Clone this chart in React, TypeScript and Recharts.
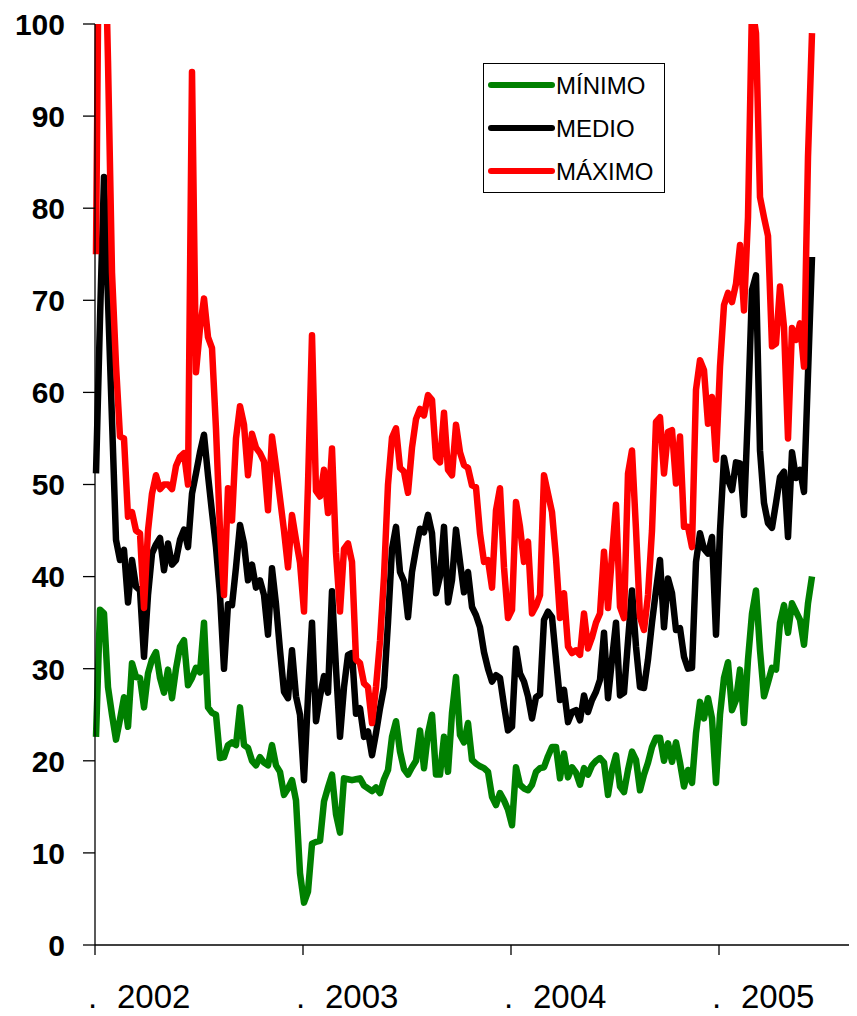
import { Legend, Line, LineChart, XAxis, YAxis } from "recharts";

// weekly prices, first week of 2002 to mid 2005
const minimo = [
  22.6, 36.4, 36, 28, 25, 22.3, 24.5, 26.9, 23.7, 30.6, 29.1, 29, 25.8, 29.5, 31, 31.8, 29, 27.4, 29.9, 26.8,
  30, 32.4, 33.1, 28.2, 29, 30.1, 29.6, 35, 25.8, 25.2, 25, 20.3, 20.4, 21.7, 22, 21.7, 25.8, 21.7, 21.4, 20,
  19.5, 20.4, 19.8, 19.5, 21.7, 19.5, 18.8, 16.3, 17, 17.9, 15.7, 7.8, 4.6, 5.8, 11, 11.2, 11.3, 15.6, 17.1, 18.5,
  14.2, 12.2, 18.1, 18, 17.9, 18, 18.1, 17.3, 17, 16.7, 17.1, 16.5, 18, 19, 22.6, 24.3, 21, 19.1, 18.5, 19.3,
  20, 23.3, 19.2, 23, 25, 18.5, 18.5, 22.6, 18.8, 25.2, 29.1, 22.8, 22, 24.1, 20.1, 19.7, 19.4, 19.2, 18.8, 16.1,
  15.2, 16.5, 15.7, 14.7, 13, 19.3, 17.4, 17, 16.8, 17.4, 18.8, 19.2, 19.3, 20.5, 21.5, 21.5, 18.1, 20.8, 18.2, 19.3,
  18.7, 17.4, 19.2, 18.5, 19.5, 20, 20.3, 19.8, 16.3, 19, 20.6, 17.2, 16.6, 19, 21, 20.1, 16.8, 18.5, 19.8, 21.5,
  22.5, 22.5, 20, 21.9, 19.9, 22, 19.8, 17.2, 19, 17.6, 23, 26.4, 24.6, 26.8, 24.6, 17.6, 25, 29, 30.7, 25.5,
  26.6, 29.9, 24.1, 31, 36, 38.5, 32, 27, 28.5, 30.1, 29.9, 35, 36.9, 33.9, 37.1, 36.2, 35.3, 32.6, 37.1, 40,
];

const medio = [
  51.2, 68, 83.4, 70, 57, 44, 41.8, 42.9, 37.2, 41.8, 38.9, 38.5, 31.3, 38, 42.5, 43.5, 44.2, 40.7, 43.6, 41.3,
  41.8, 44, 45.1, 43.2, 49, 51.2, 53.5, 55.4, 51, 47, 43.2, 38, 30, 37, 36.9, 41, 45.6, 43.6, 39.6, 41.3,
  38.8, 39.6, 38, 33.7, 40.9, 37, 32, 27.5, 26.8, 32, 27, 25, 17.9, 27, 35, 24.3, 27, 29.2, 27.4, 38.4,
  30, 22.6, 28, 31.5, 31.7, 25.1, 25.7, 22.6, 23.2, 20.6, 23, 25.7, 28, 35, 43, 45.4, 40.5, 39.5, 35.6, 40.5,
  43, 45.2, 44.8, 46.7, 44.7, 38.2, 40, 45.4, 37.2, 39.6, 45.1, 41.6, 38.3, 40.5, 36.7, 35.8, 34.5, 31.8, 30, 28.6,
  29.3, 29, 26, 23.3, 23.7, 32.2, 29.5, 28.6, 27, 24.6, 26.9, 27.2, 35.3, 36.2, 35.6, 31, 26.6, 27.7, 24.2, 25.3,
  25.5, 24.4, 27.1, 25.3, 26.6, 27.5, 28.8, 33.9, 26.8, 31, 35, 27.1, 27.4, 33, 38.5, 32.4, 28, 27.9, 31, 35,
  38.5, 41.8, 34.5, 39.8, 38.2, 34.2, 34.4, 31.3, 30, 30.1, 41.6, 44.7, 43, 42.5, 44.3, 33.7, 45, 52.9, 50.5, 49.4,
  52.4, 52.3, 46.7, 58, 71.1, 72.7, 53.7, 48, 45.8, 45.3, 48, 50.8, 51.4, 44.3, 53.5, 50.7, 51.6, 49.2, 62, 74.7,
];

const maximo = [
  75, 125, 115, 96, 73, 63, 55.2, 55, 46.5, 47, 45, 44.7, 36.6, 45, 49, 51, 49.5, 50, 50, 49.5,
  52, 53, 53.4, 50, 94.8, 62.2, 67, 70.2, 66, 64.8, 56, 45, 38, 49.6, 46.1, 55, 58.5, 56.5, 51, 55.5,
  54, 53.4, 52.5, 47.2, 55.2, 52, 48.5, 45, 41, 46.7, 44, 41.5, 36.2, 50, 66.2, 49.3, 48.7, 51.6, 46.9, 53.9,
  42.6, 36.2, 43, 43.6, 41.6, 31, 30.6, 28.4, 28, 24.1, 28, 33, 40, 50, 55.1, 56.1, 51.8, 51.4, 49.1, 54,
  57.1, 58.2, 57.5, 59.7, 59.2, 52.9, 52.4, 57.8, 51.6, 51, 56.5, 53.5, 52.1, 51.8, 49.9, 49.7, 44.7, 41.6, 41.8, 38.8,
  47.2, 49.6, 41, 35.5, 36.4, 48.1, 45.4, 41.6, 43.8, 36, 36.8, 38, 51, 49, 47, 42, 35.5, 38.2, 32.4, 31.7,
  32, 31.5, 36, 32.2, 33.4, 35, 36, 42.7, 36.6, 42.3, 47.8, 36.7, 35.5, 51.2, 53.7, 45.1, 35.6, 34.2, 38, 45,
  56.8, 57.3, 51.2, 55.7, 55.9, 50.1, 55.2, 45.4, 45.4, 43.2, 60.3, 63.5, 62.4, 56.6, 59.5, 52.7, 62.8, 69.5, 70.8, 69.8,
  71.8, 76, 68.9, 79, 102, 99, 81.2, 79, 77, 65, 65.3, 71.5, 67.1, 55, 67, 65.7, 67.5, 62.8, 85.6, 99,
];

const seriesNames = ["MÍNIMO", "MEDIO", "MÁXIMO"];
const yearTicks = [2002, 2003, 2004, 2005];
const valueTicks = [0, 10, 20, 30, 40, 50, 60, 70, 80, 90, 100];

const data = maximo.map((_, i) => ({
  t: 2002 + (i + 0.25) / 52,
  min: minimo[i],
  med: medio[i],
  max: maximo[i],
}));

const font = "'Liberation Sans', Arial, sans-serif";

function YearTick({ x, y, payload }: any) {
  return (
    <g fontFamily={font} fontSize={33} fill="#000">
      <text x={x - 7} y={y + 53}>.</text>
      <text x={x + 22} y={y + 53}>{payload.value}</text>
    </g>
  );
}

function ValueTick({ x, y, payload }: any) {
  return (
    <text x={x} y={y} dy="0.36em" textAnchor="end" fontFamily={font} fontWeight="bold" fontSize={30} fill="#000">
      {payload.value}
    </text>
  );
}

function LegendBox({ payload }: any) {
  const items = [...(payload || [])].sort(
    (a: any, b: any) => seriesNames.indexOf(a.value) - seriesNames.indexOf(b.value)
  );
  return (
    <div style={{ border: "1px solid #000", width: 182, height: 130, boxSizing: "border-box", background: "#fff" }}>
      <svg width={180} height={128}>
        {items.map((p: any, k: number) => (
          <g key={p.value}>
            <line x1={7} x2={68} y1={21 + k * 43} y2={21 + k * 43} stroke={p.color} strokeWidth={6} strokeLinecap="round" />
            <text x={72} y={21 + k * 43} dy="0.36em" fontFamily={font} fontSize={24} fill="#000">
              {p.value}
            </text>
          </g>
        ))}
      </svg>
    </div>
  );
}

export default function App() {
  return (
    <LineChart width={849} height={1008} data={data} margin={{ top: 16, right: 2, bottom: 0, left: 0 }}>
      <XAxis
        dataKey="t"
        type="number"
        domain={[2002, 2002 + 760 / 208]}
        ticks={yearTicks}
        tick={<YearTick />}
        tickSize={10}
        tickMargin={0}
        height={71}
        axisLine={{ stroke: "#000", strokeWidth: 1.3 }}
        tickLine={{ stroke: "#000", strokeWidth: 1.3 }}
      />
      <YAxis
        domain={[0, 100]}
        ticks={valueTicks}
        allowDataOverflow
        tick={<ValueTick />}
        tickSize={12}
        tickMargin={18}
        width={87}
        axisLine={{ stroke: "#000", strokeWidth: 1.3 }}
        tickLine={{ stroke: "#000", strokeWidth: 1.3 }}
      />
      <Legend
        layout="vertical"
        align="center"
        verticalAlign="middle"
        wrapperStyle={{ left: 475, top: 55, width: 182, height: 130 }}
        content={<LegendBox />}
      />
      <Line type="linear" dataKey="min" name="MÍNIMO" stroke="#008000" strokeWidth={6.5} dot={false} strokeLinejoin="round" isAnimationActive={false} />
      <Line type="linear" dataKey="med" name="MEDIO" stroke="#000000" strokeWidth={6.5} dot={false} strokeLinejoin="round" isAnimationActive={false} />
      <Line type="linear" dataKey="max" name="MÁXIMO" stroke="#ff0000" strokeWidth={6.5} dot={false} strokeLinejoin="round" isAnimationActive={false} />
    </LineChart>
  );
}
